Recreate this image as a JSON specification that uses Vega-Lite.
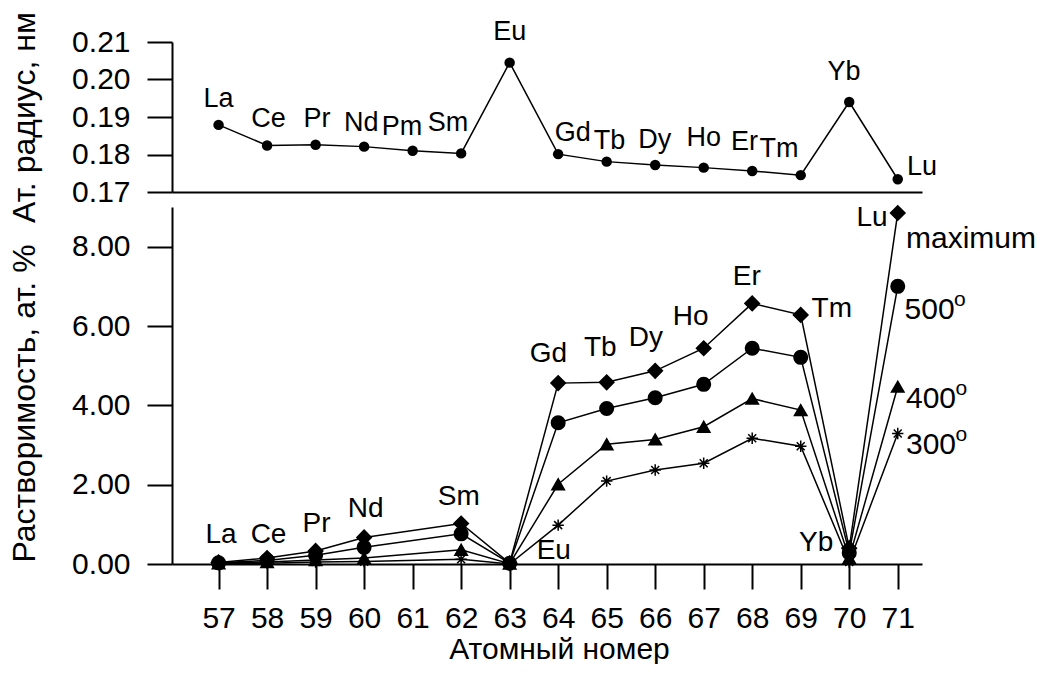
{
  "$schema": "https://vega.github.io/schema/vega-lite/v6.json",
  "background": "white",
  "padding": {"left": 8, "top": 11, "right": 0, "bottom": 0},
  "bounds": "flush",
  "spacing": 15,
  "config": {
    "view": {"stroke": null},
    "font": "Liberation Sans",
    "axis": {
      "domainColor": "black", "domainWidth": 2, "tickColor": "black", "tickWidth": 2,
      "labelColor": "black", "titleColor": "black", "labelFont": "Liberation Sans", "titleFont": "Liberation Sans",
      "labelFontSize": 30, "titleFontSize": 32, "titleFontWeight": "normal", "grid": false, "labelOverlap": false
    },
    "text": {"font": "Liberation Sans", "color": "black"}
  },
  "datasets": {
    "radius": [
      {"z": 57, "r": 0.1879}, {"z": 58, "r": 0.1824}, {"z": 59, "r": 0.1826}, {"z": 60, "r": 0.1821},
      {"z": 61, "r": 0.1810}, {"z": 62, "r": 0.1803}, {"z": 63, "r": 0.2045}, {"z": 64, "r": 0.1801},
      {"z": 65, "r": 0.1781}, {"z": 66, "r": 0.1772}, {"z": 67, "r": 0.1765}, {"z": 68, "r": 0.1756},
      {"z": 69, "r": 0.1745}, {"z": 70, "r": 0.1940}, {"z": 71, "r": 0.1734}
    ],
    "toplabels": [
      {"x": 57.0, "y": 0.1948, "t": "La"}, {"x": 58.03, "y": 0.1895, "t": "Ce"}, {"x": 59.03, "y": 0.1895, "t": "Pr"},
      {"x": 59.94, "y": 0.1884, "t": "Nd"}, {"x": 60.78, "y": 0.1873, "t": "Pm"}, {"x": 61.73, "y": 0.1884, "t": "Sm"},
      {"x": 63.0, "y": 0.2128, "t": "Eu"}, {"x": 64.3, "y": 0.1857, "t": "Gd"}, {"x": 65.06, "y": 0.1836, "t": "Tb"},
      {"x": 65.99, "y": 0.1839, "t": "Dy"}, {"x": 67.0, "y": 0.1844, "t": "Ho"}, {"x": 67.84, "y": 0.1834, "t": "Er"},
      {"x": 68.55, "y": 0.1815, "t": "Tm"}, {"x": 69.89, "y": 0.2019, "t": "Yb"}, {"x": 71.5, "y": 0.1768, "t": "Lu"}
    ],
    "solub": [
      {"z": 57, "s": "maximum", "v": 0.04}, {"z": 58, "s": "maximum", "v": 0.15}, {"z": 59, "s": "maximum", "v": 0.33},
      {"z": 60, "s": "maximum", "v": 0.67}, {"z": 62, "s": "maximum", "v": 1.02}, {"z": 63, "s": "maximum", "v": 0.02},
      {"z": 64, "s": "maximum", "v": 4.56}, {"z": 65, "s": "maximum", "v": 4.58}, {"z": 66, "s": "maximum", "v": 4.87},
      {"z": 67, "s": "maximum", "v": 5.44}, {"z": 68, "s": "maximum", "v": 6.57}, {"z": 69, "s": "maximum", "v": 6.28},
      {"z": 70, "s": "maximum", "v": 0.4}, {"z": 71, "s": "maximum", "v": 8.85},
      {"z": 57, "s": "500", "v": 0.03}, {"z": 58, "s": "500", "v": 0.09}, {"z": 59, "s": "500", "v": 0.22},
      {"z": 60, "s": "500", "v": 0.42}, {"z": 62, "s": "500", "v": 0.76}, {"z": 63, "s": "500", "v": 0.02},
      {"z": 64, "s": "500", "v": 3.56}, {"z": 65, "s": "500", "v": 3.92}, {"z": 66, "s": "500", "v": 4.19},
      {"z": 67, "s": "500", "v": 4.53}, {"z": 68, "s": "500", "v": 5.44}, {"z": 69, "s": "500", "v": 5.21},
      {"z": 70, "s": "500", "v": 0.28}, {"z": 71, "s": "500", "v": 7.0},
      {"z": 57, "s": "400", "v": 0.02}, {"z": 58, "s": "400", "v": 0.05}, {"z": 59, "s": "400", "v": 0.1},
      {"z": 60, "s": "400", "v": 0.15}, {"z": 62, "s": "400", "v": 0.36}, {"z": 63, "s": "400", "v": 0.01},
      {"z": 64, "s": "400", "v": 2.01}, {"z": 65, "s": "400", "v": 3.02}, {"z": 66, "s": "400", "v": 3.14},
      {"z": 67, "s": "400", "v": 3.46}, {"z": 68, "s": "400", "v": 4.17}, {"z": 69, "s": "400", "v": 3.88},
      {"z": 70, "s": "400", "v": 0.15}, {"z": 71, "s": "400", "v": 4.47},
      {"z": 57, "s": "300", "v": 0.01}, {"z": 58, "s": "300", "v": 0.02}, {"z": 59, "s": "300", "v": 0.05},
      {"z": 60, "s": "300", "v": 0.06}, {"z": 62, "s": "300", "v": 0.12}, {"z": 63, "s": "300", "v": 0.0},
      {"z": 64, "s": "300", "v": 0.98}, {"z": 65, "s": "300", "v": 2.09}, {"z": 66, "s": "300", "v": 2.37},
      {"z": 67, "s": "300", "v": 2.54}, {"z": 68, "s": "300", "v": 3.17}, {"z": 69, "s": "300", "v": 2.97},
      {"z": 70, "s": "300", "v": 0.05}, {"z": 71, "s": "300", "v": 3.29}
    ],
    "botlabels": [
      {"x": 57.05, "y": 0.74, "t": "La"}, {"x": 58.03, "y": 0.74, "t": "Ce"}, {"x": 59.02, "y": 1.02, "t": "Pr"},
      {"x": 60.03, "y": 1.38, "t": "Nd"}, {"x": 61.95, "y": 1.69, "t": "Sm"}, {"x": 63.91, "y": 0.34, "t": "Eu"},
      {"x": 63.8, "y": 5.29, "t": "Gd"}, {"x": 64.87, "y": 5.44, "t": "Tb"}, {"x": 65.81, "y": 5.69, "t": "Dy"},
      {"x": 66.73, "y": 6.22, "t": "Ho"}, {"x": 67.89, "y": 7.23, "t": "Er"}, {"x": 69.64, "y": 6.43, "t": "Tm"},
      {"x": 69.32, "y": 0.52, "t": "Yb"}, {"x": 70.47, "y": 8.73, "t": "Lu"}
    ],
    "serieslabels": [
      {"x": 71.17, "y": 8.2, "t": "maximum"}, {"x": 71.14, "y": 6.4, "t": "500"},
      {"x": 71.17, "y": 4.15, "t": "400"}, {"x": 71.17, "y": 3.0, "t": "300"}
    ],
    "sup": [
      {"x": 72.16, "y": 6.66, "t": "o"}, {"x": 72.19, "y": 4.41, "t": "o"}, {"x": 72.19, "y": 3.26, "t": "o"}
    ]
  },
  "vconcat": [
    {
      "width": 750,
      "height": 150,
      "layer": [
        {
          "data": {"name": "radius"},
          "mark": {"type": "line", "color": "black", "strokeWidth": 1.5},
          "encoding": {
            "x": {"field": "z", "type": "quantitative", "scale": {"domain": [56.04, 71.5], "nice": false, "zero": false},
                  "axis": {"ticks": false, "labels": false, "title": null}},
            "y": {"field": "r", "type": "quantitative", "scale": {"domain": [0.17, 0.21], "nice": false, "zero": false},
                  "axis": {"tickCount": 4, "format": ".2f", "tickSize": 25, "labelPadding": 17, "labelOverlap": false,
                           "title": "Ат. радиус, нм", "titlePadding": 30}}
          }
        },
        {
          "data": {"name": "radius"},
          "mark": {"type": "point", "filled": true, "color": "black", "size": 110, "opacity": 1},
          "encoding": {
            "x": {"field": "z", "type": "quantitative"},
            "y": {"field": "r", "type": "quantitative"}
          }
        },
        {
          "data": {"name": "toplabels"},
          "mark": {"type": "text", "fontSize": 27, "align": "center", "baseline": "middle"},
          "encoding": {
            "x": {"field": "x", "type": "quantitative"},
            "y": {"field": "y", "type": "quantitative"},
            "text": {"field": "t"}
          }
        }
      ]
    },
    {
      "width": 750,
      "height": 357,
      "layer": [
        {
          "data": {"name": "solub"},
          "mark": {"type": "line", "color": "black", "strokeWidth": 1.5},
          "encoding": {
            "x": {"field": "z", "type": "quantitative", "scale": {"domain": [56.04, 71.5], "nice": false, "zero": false},
                  "axis": {"values": [57,58,59,60,61,62,63,64,65,66,67,68,69,70,71], "tickSize": 25, "labelPadding": 14,
                           "title": "Атомный номер", "titleFontSize": 30, "titlePadding": 1, "titleX": 387}},
            "y": {"field": "v", "type": "quantitative", "scale": {"domain": [0, 9], "nice": false},
                  "axis": {"values": [0,1,2,3,4,5,6,7,8,9],
                           "labelExpr": "datum.value % 2 === 0 ? format(datum.value, '.2f') : ''",
                           "tickSize": {"condition": {"test": "datum.value % 2 === 1", "value": 13}, "value": 25},
                           "labelPadding": 17, "title": "Растворимость, ат. %", "titlePadding": 30, "titleY": 196}},
            "detail": {"field": "s"}
          }
        },
        {
          "data": {"name": "solub"},
          "mark": {"type": "point", "filled": true, "fill": "black", "stroke": "black", "strokeWidth": 1.5, "opacity": 1},
          "encoding": {
            "x": {"field": "z", "type": "quantitative"},
            "y": {"field": "v", "type": "quantitative"},
            "shape": {"field": "s", "type": "nominal", "legend": null,
                      "scale": {"domain": ["maximum", "500", "400", "300"],
                                "range": ["diamond", "circle", "triangle-up", "M-1,0L1,0M0,-1L0,1M-0.7,-0.7L0.7,0.7M-0.7,0.7L0.7,-0.7"]}},
            "size": {"field": "s", "type": "nominal", "legend": null,
                     "scale": {"domain": ["maximum", "500", "400", "300"], "range": [210, 130, 170, 200]}}
          }
        },
        {
          "data": {"name": "botlabels"},
          "mark": {"type": "text", "fontSize": 28, "align": "center", "baseline": "middle"},
          "encoding": {
            "x": {"field": "x", "type": "quantitative"},
            "y": {"field": "y", "type": "quantitative"},
            "text": {"field": "t"}
          }
        },
        {
          "data": {"name": "serieslabels"},
          "mark": {"type": "text", "fontSize": 30, "align": "left", "baseline": "middle"},
          "encoding": {
            "x": {"field": "x", "type": "quantitative"},
            "y": {"field": "y", "type": "quantitative"},
            "text": {"field": "t"}
          }
        },
        {
          "data": {"name": "sup"},
          "mark": {"type": "text", "fontSize": 21, "align": "left", "baseline": "middle"},
          "encoding": {
            "x": {"field": "x", "type": "quantitative"},
            "y": {"field": "y", "type": "quantitative"},
            "text": {"field": "t"}
          }
        }
      ]
    }
  ]
}
